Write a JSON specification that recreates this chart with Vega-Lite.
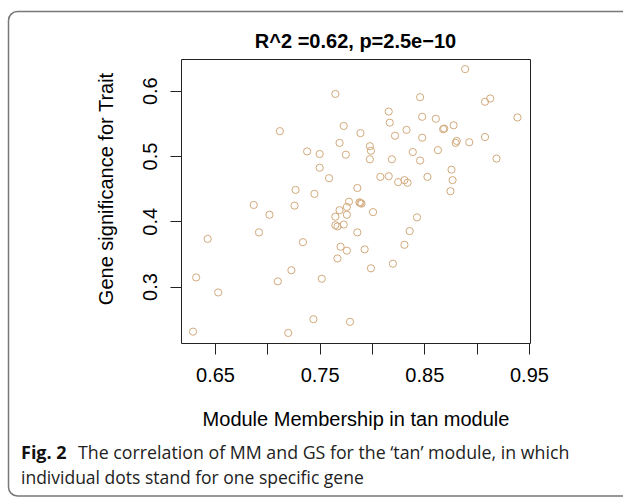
{
  "$schema": "https://vega.github.io/schema/vega-lite/v6.json",
  "width": 349,
  "height": 284,
  "autosize": {"type": "none"},
  "padding": {"left": 181, "top": 59, "right": 93, "bottom": 155},
  "background": "white",
  "config": {"view": {"stroke": "#222", "strokeWidth": 1}, "font": "Liberation Sans"},
  "title": {"text": "R^2 =0.62, p=2.5e−10", "fontSize": 20, "fontWeight": "bold", "font": "Liberation Sans", "color": "black", "anchor": "middle", "frame": "group", "baseline": "alphabetic", "offset": 0, "dy": 57.5},
  "layer": [
    {
      "data": {"values": [{"k": 1}]},
      "mark": {"type": "rect", "filled": false, "color": "#777", "strokeWidth": 1.5, "cornerRadius": 9},
      "encoding": {"x": {"value": -172.5}, "x2": {"value": 460}, "y": {"value": -47.5}, "y2": {"value": 437}}
    },
    {
      "data": {"values": [
        {"mm": 0.765, "gs": 0.595}, {"mm": 0.712, "gs": 0.538}, {"mm": 0.773, "gs": 0.546}, {"mm": 0.789, "gs": 0.535},
        {"mm": 0.769, "gs": 0.520}, {"mm": 0.738, "gs": 0.507}, {"mm": 0.750, "gs": 0.503}, {"mm": 0.775, "gs": 0.502},
        {"mm": 0.750, "gs": 0.482}, {"mm": 0.759, "gs": 0.466}, {"mm": 0.786, "gs": 0.451}, {"mm": 0.727, "gs": 0.448},
        {"mm": 0.745, "gs": 0.442}, {"mm": 0.687, "gs": 0.425}, {"mm": 0.726, "gs": 0.424}, {"mm": 0.778, "gs": 0.430},
        {"mm": 0.776, "gs": 0.422}, {"mm": 0.769, "gs": 0.417}, {"mm": 0.765, "gs": 0.407}, {"mm": 0.776, "gs": 0.410},
        {"mm": 0.765, "gs": 0.394}, {"mm": 0.767, "gs": 0.392}, {"mm": 0.773, "gs": 0.395}, {"mm": 0.788, "gs": 0.429},
        {"mm": 0.702, "gs": 0.410}, {"mm": 0.692, "gs": 0.383}, {"mm": 0.643, "gs": 0.373}, {"mm": 0.734, "gs": 0.368},
        {"mm": 0.632, "gs": 0.314}, {"mm": 0.653, "gs": 0.291}, {"mm": 0.710, "gs": 0.308}, {"mm": 0.723, "gs": 0.325},
        {"mm": 0.752, "gs": 0.312}, {"mm": 0.629, "gs": 0.231}, {"mm": 0.720, "gs": 0.229}, {"mm": 0.744, "gs": 0.250},
        {"mm": 0.779, "gs": 0.246}, {"mm": 0.770, "gs": 0.361}, {"mm": 0.776, "gs": 0.355}, {"mm": 0.767, "gs": 0.343},
        {"mm": 0.786, "gs": 0.383}, {"mm": 0.889, "gs": 0.633}, {"mm": 0.846, "gs": 0.590}, {"mm": 0.913, "gs": 0.588},
        {"mm": 0.908, "gs": 0.583}, {"mm": 0.816, "gs": 0.568}, {"mm": 0.817, "gs": 0.551}, {"mm": 0.848, "gs": 0.560},
        {"mm": 0.861, "gs": 0.557}, {"mm": 0.939, "gs": 0.559}, {"mm": 0.833, "gs": 0.540}, {"mm": 0.822, "gs": 0.531},
        {"mm": 0.848, "gs": 0.528}, {"mm": 0.868, "gs": 0.541}, {"mm": 0.869, "gs": 0.542}, {"mm": 0.878, "gs": 0.547},
        {"mm": 0.908, "gs": 0.529}, {"mm": 0.881, "gs": 0.523}, {"mm": 0.880, "gs": 0.520}, {"mm": 0.893, "gs": 0.521},
        {"mm": 0.798, "gs": 0.515}, {"mm": 0.799, "gs": 0.508}, {"mm": 0.798, "gs": 0.495}, {"mm": 0.819, "gs": 0.495},
        {"mm": 0.839, "gs": 0.506}, {"mm": 0.846, "gs": 0.493}, {"mm": 0.863, "gs": 0.509}, {"mm": 0.919, "gs": 0.496},
        {"mm": 0.876, "gs": 0.479}, {"mm": 0.877, "gs": 0.463}, {"mm": 0.875, "gs": 0.446}, {"mm": 0.808, "gs": 0.468},
        {"mm": 0.816, "gs": 0.469}, {"mm": 0.825, "gs": 0.460}, {"mm": 0.831, "gs": 0.463}, {"mm": 0.834, "gs": 0.459},
        {"mm": 0.853, "gs": 0.468}, {"mm": 0.789, "gs": 0.428}, {"mm": 0.790, "gs": 0.427}, {"mm": 0.801, "gs": 0.414},
        {"mm": 0.843, "gs": 0.406}, {"mm": 0.836, "gs": 0.385}, {"mm": 0.793, "gs": 0.357}, {"mm": 0.831, "gs": 0.364},
        {"mm": 0.799, "gs": 0.328}, {"mm": 0.820, "gs": 0.335}
      ]},
      "mark": {"type": "point", "shape": "circle", "filled": false, "size": 52, "strokeWidth": 1, "color": "#D2AA7D", "opacity": 1},
      "encoding": {
        "x": {"field": "mm", "type": "quantitative",
          "scale": {"domain": [0.6175, 0.951], "nice": false, "zero": false},
          "axis": {"title": "Module Membership in tan module", "values": [0.65, 0.7, 0.75, 0.8, 0.85, 0.9, 0.95],
            "labelExpr": "round(datum.value*20) % 2 == 1 ? format(datum.value, '.2f') : ''",
            "grid": false, "domain": false, "tickSize": 11, "tickColor": "#222", "tickWidth": 1,
            "labelFont": "Liberation Sans", "labelFontSize": 20, "labelColor": "black", "labelPadding": 11,
            "labelFlush": false, "labelOverlap": false, "labelBaseline": "top",
            "titleFont": "Liberation Sans", "titleFontSize": 20, "titleFontWeight": "normal", "titleColor": "black",
            "titleBaseline": "alphabetic", "titleY": 82}},
        "y": {"field": "gs", "type": "quantitative",
          "scale": {"domain": [0.2136, 0.6485], "nice": false, "zero": false},
          "axis": {"title": "Gene significance for Trait", "values": [0.3, 0.4, 0.5, 0.6], "format": ".1f",
            "grid": false, "domain": false, "tickSize": 11, "tickColor": "#222", "tickWidth": 1,
            "labelAngle": -90, "labelAlign": "center", "labelBaseline": "alphabetic", "labelPadding": 14,
            "labelFont": "Liberation Sans", "labelFontSize": 20, "labelColor": "black", "labelFlush": false, "labelOverlap": false,
            "titleFont": "Liberation Sans", "titleFontSize": 20, "titleFontWeight": "normal", "titleColor": "black",
            "titleAngle": -90, "titleAlign": "center", "titleBaseline": "alphabetic", "titleX": -69, "titleY": 129.5}}
      }
    },
    {
      "data": {"values": [{"t": "Fig. 2"}]},
      "mark": {"type": "text", "font": "Open Sans", "fontSize": 18, "fontWeight": "bold", "color": "#111", "align": "left", "baseline": "alphabetic"},
      "encoding": {"text": {"field": "t"}, "x": {"value": -160}, "y": {"value": 400}}
    },
    {
      "data": {"values": [{"t": "The correlation of MM and GS for the ‘tan’ module, in which"}]},
      "mark": {"type": "text", "font": "Open Sans", "fontSize": 17.8, "color": "#222", "align": "left", "baseline": "alphabetic"},
      "encoding": {"text": {"field": "t"}, "x": {"value": -103}, "y": {"value": 400}}
    },
    {
      "data": {"values": [{"t": "individual dots stand for one specific gene"}]},
      "mark": {"type": "text", "font": "Open Sans", "fontSize": 17.5, "color": "#222", "align": "left", "baseline": "alphabetic"},
      "encoding": {"text": {"field": "t"}, "x": {"value": -160}, "y": {"value": 425}}
    }
  ]
}
